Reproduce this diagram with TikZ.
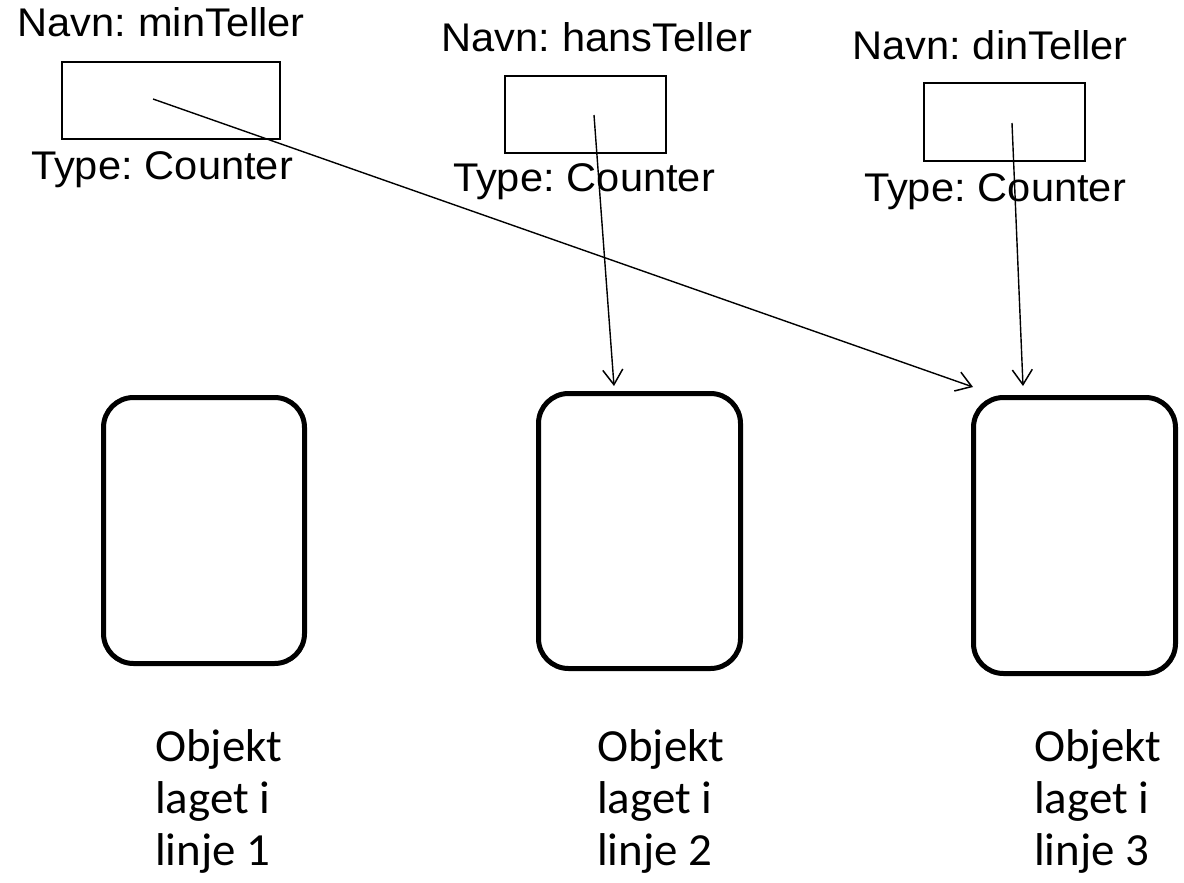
\documentclass[tikz,border=0pt]{standalone}
\usepackage{fontspec}
\usepackage{graphicx}
\usetikzlibrary{arrows.meta}
\newfontfamily\arialf{Liberation Sans}
\newfontfamily\calf{Carlito}
\newcommand\wideA[1]{\scalebox{1.04}[1]{\spaceskip=0.2em\relax #1}}
\newcommand\wideC[1]{\scalebox{1.02}[1]{\begin{tabular}[t]{@{}l@{}}#1\end{tabular}}}
\tikzset{
  lbl/.style={inner sep=0pt, anchor=base, font=\arialf\fontsize{40}{46}\selectfont},
  varbox/.style={draw, line width=1.5pt, inner sep=0pt, minimum height=77pt},
  objbox/.style={draw, line width=5pt, rounded corners=30pt, inner sep=0pt, minimum width=202pt},
  refarrow/.style={-{Straight Barb[length=15pt,width=20pt,line width=1.5pt]}, line width=1.4pt},
  desc/.style={inner sep=0pt, anchor=base west, font=\calf\fontsize{46}{52}\selectfont}
}
\begin{document}
\begin{tikzpicture}[x=1pt,y=-1pt]
\useasboundingbox (0,0) rectangle (1184,883);
% variable names and types
\node[lbl] (n1) at (161,37) {\wideA{Navn: minTeller}};
\node[lbl] (t1) at (162,179) {\wideA{Type: Counter}};
\node[lbl] (n2) at (597,52) {\wideA{Navn: hansTeller}};
\node[lbl] (t2) at (584,191) {\wideA{Type: Counter}};
\node[lbl] (n3) at (990,60) {\wideA{Navn: dinTeller}};
\node[lbl] (t3) at (995,201) {\wideA{Type: Counter}};
% reference boxes
\node[varbox, minimum width=218pt] (v1) at (171,100.5) {};
\node[varbox, minimum width=161pt] (v2) at (585.5,114.5) {};
\node[varbox, minimum width=161pt, minimum height=78pt] (v3) at (1004.5,122) {};
% objects
\node[objbox, minimum height=266pt, minimum width=201pt] (o1) at (204,530.5) {};
\node[objbox, minimum height=275pt] (o2) at (639.5,531) {};
\node[objbox, minimum height=276pt] (o3) at (1074.5,535.5) {};
% object descriptions
\node[desc] (d1) at (155,761) {\wideC{Objekt\\laget i\\linje 1}};
\node[desc] (d2) at (597,761) {\wideC{Objekt\\laget i\\linje 2}};
\node[desc] (d3) at (1034,761) {\wideC{Objekt\\laget i\\linje 3}};
% arrow start and end points
\coordinate (s1) at (153,99);
\coordinate (s2) at (594,115);
\coordinate (s3) at (1012,123);
\coordinate (e1) at (973,387);
\coordinate (e2) at (614,386);
\coordinate (e3) at (1023,386);
\draw[refarrow] (s1) -- (e1);
\draw[refarrow] (s2) -- (e2);
\draw[refarrow] (s3) -- (e3);
\end{tikzpicture}
\end{document}
